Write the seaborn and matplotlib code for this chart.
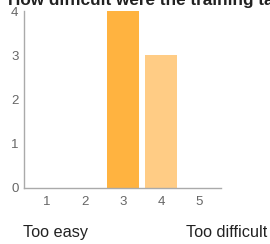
import matplotlib
matplotlib.use("Agg")
import matplotlib.pyplot as plt
import seaborn as sns
import pandas as pd

categories = ["1", "2", "3", "4", "5"]
counts = [0, 0, 4, 3, 0]
bar_colors = ["#FFB340", "#FFB340", "#FFB340", "#FFCC85", "#FFCC85"]
title = "How difficult were the training tasks?"
low_label = "Too easy"
high_label = "Too difficult"

sns.set_style("white")
plt.rcParams["font.family"] = ["Liberation Sans", "DejaVu Sans"]

df = pd.DataFrame({"rating": categories, "count": counts})

fig = plt.figure(figsize=(2.70, 2.44), dpi=100)
ax = fig.add_axes([24 / 270, 1 - 188 / 244, (221 - 24) / 270, (188 - 11) / 244])

sns.barplot(data=df, x="rating", y="count", hue="rating", order=categories,
            palette=dict(zip(categories, bar_colors)), legend=False,
            width=0.84, ax=ax, saturation=1, edgecolor="none")

ax.set_xlim(-0.605, 4.58)
ax.set_ylim(0, 4)
ax.set_yticks([0, 1, 2, 3, 4])
ax.set_xlabel("")
ax.set_ylabel("")
for s in ["top", "right"]:
    ax.spines[s].set_visible(False)
for s in ["left", "bottom"]:
    ax.spines[s].set_color("#aaaaaa")
    ax.spines[s].set_linewidth(1.0)
ax.tick_params(axis="both", colors="#aaaaaa", length=3, width=1, pad=1,
               labelcolor="#666666", labelsize=9.5)
ax.tick_params(axis="x", pad=3)

fig.text(8 / 270, 1 - 4.5 / 244, title, fontsize=12.3, fontweight="bold",
         color="#222222", va="baseline", ha="left")
fig.text(23 / 270, 1 - 237 / 244, low_label, fontsize=11.7, color="#222222",
         va="baseline", ha="left")
fig.text(186 / 270, 1 - 237 / 244, high_label, fontsize=11.7, color="#222222",
         va="baseline", ha="left")

fig.savefig("out.png", dpi=100)
